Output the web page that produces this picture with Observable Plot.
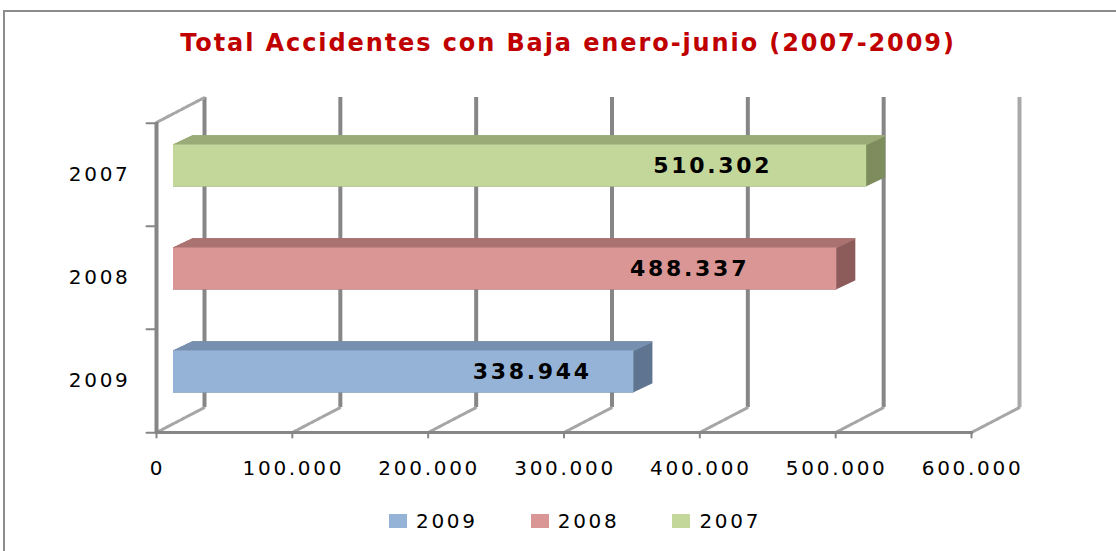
<!DOCTYPE html>
<html>
<head>
<meta charset="utf-8">
<script src="https://cdn.jsdelivr.net/npm/d3@7"></script>
<script src="https://cdn.jsdelivr.net/npm/@observablehq/plot@0.6"></script>
<style>
  html, body { margin: 0; padding: 0; background: #fff; }
  body { width: 1116px; height: 551px; overflow: hidden; position: relative; font-family: "DejaVu Sans", Verdana, sans-serif; }
  #box { position: absolute; left: 3px; top: 10px; width: 1130px; height: 560px; border-left: 2px solid #8c8c8c; border-top: 2px solid #8c8c8c; }
  #title { position: absolute; left: 0; top: 29px; width: 1136px; text-align: center; font-family: "DejaVu Sans", sans-serif; font-weight: bold; font-size: 24px; letter-spacing: 1.9px; color: #c00000; white-space: nowrap; }
  #chart { position: absolute; left: 0; top: 80px; }
  #chart svg text { letter-spacing: 2.7px; }
  #legend { position: absolute; left: 389px; top: 509px; display: flex; gap: 53px; align-items: center; font-size: 20px; letter-spacing: 2.7px; color: #000; }
  .item { display: flex; align-items: center; }
  .sw { width: 18px; height: 14px; margin-right: 9px; }
</style>
</head>
<body>
<div id="box"></div>
<div id="title">Total Accidentes con Baja enero-junio (2007-2009)</div>
<div id="chart"></div>
<div id="legend"></div>
<script>
// ---- data ----
const years = ["2009", "2008", "2007"];
const values = [338944, 488337, 510302];
const xTicks = [0, 100000, 200000, 300000, 400000, 500000, 600000];
const frontColors = ["#95b3d7", "#da9694", "#c4d79b"];
const topColors = ["#7890b0", "#aa7371", "#9bab79"];
const sideColors = ["#607590", "#8c5c5b", "#7e8d5e"];

const data = years.map((year, i) => ({year, value: values[i], front: frontColors[i], top: topColors[i], side: sideColors[i]}));

const es = d3.formatLocale({decimal: ",", thousands: ".", grouping: [3], currency: ["", " €"]});
const fmt = es.format(",d");

// ---- layout ----
const W = 1116, H = 410, mt = 42, mb = 58, ml = 156, mr = 145;
const bw = (H - mt - mb) / 3;
const inset = 30.5;
const wallDx = 48, wallDy = -25;
const barDx = 17, barDy = -9, depthDx = 19, depthDy = -9;
const steps = 24;

const barMarks = [];
// extruded body (side colour)
for (let k = steps; k >= 0; k--) {
  const t = k / steps;
  barMarks.push(Plot.barX(data, {x1: 0, x2: "value", y: "year", fill: "side", insetTop: inset, insetBottom: inset,
    dx: barDx + depthDx * t, dy: barDy + depthDy * t}));
}
// top face
for (let k = steps; k >= 0; k--) {
  const t = k / steps;
  barMarks.push(Plot.ruleY(data, {y: "year", x1: 0, x2: "value", stroke: "top", strokeWidth: 1.2,
    dx: barDx + depthDx * t, dy: barDy + depthDy * t - (bw / 2 - inset)}));
}
// front face
barMarks.push(Plot.barX(data, {x1: 0, x2: "value", y: "year", fill: "front", insetTop: inset, insetBottom: inset, dx: barDx, dy: barDy}));

const leftTicks = years.slice();

const chart = Plot.plot({
  width: W, height: H,
  marginTop: mt, marginBottom: mb, marginLeft: ml, marginRight: mr,
  x: {domain: [0, 600000], axis: null},
  y: {domain: ["2007", "2008", "2009"], padding: 0, axis: null},
  color: {type: "identity"},
  style: {fontFamily: "'DejaVu Sans', Verdana, sans-serif", background: "transparent", overflow: "visible"},
  marks: [
    // back wall gridlines
    Plot.ruleX(xTicks.slice(0, 6), {x: d => d, dx: wallDx, dy: wallDy, stroke: "#868686", strokeWidth: 4}),
    Plot.ruleX(xTicks.slice(6), {x: d => d, dx: wallDx, dy: wallDy, stroke: "#a9a9a9", strokeWidth: 4}),
    // floor diagonals
    Plot.vector(xTicks, {x: d => d, frameAnchor: "bottom", length: 54, rotate: 62.5, anchor: "start", r: 0, stroke: "#a6a6a6", strokeWidth: 3, strokeDasharray: "4,1.5"}),
    // top-left wall edge
    Plot.vector([0], {x: d => d, frameAnchor: "top", length: 54, rotate: 62.5, anchor: "start", r: 0, stroke: "#a6a6a6", strokeWidth: 3, strokeDasharray: "4,1.5"}),
    // left front edge
    Plot.ruleX([0], {stroke: "#868686", strokeWidth: 4}),
    // floor front edge
    Plot.frame({anchor: "bottom", stroke: "#868686", strokeWidth: 3}),
    // x tick marks
    Plot.vector(xTicks, {x: d => d, frameAnchor: "bottom", length: 5, rotate: 180, anchor: "start", r: 0, stroke: "#868686", strokeWidth: 2}),
    // y tick marks (band edges)
    Plot.vector(leftTicks, {y: d => d, frameAnchor: "left", length: 10, rotate: -90, anchor: "start", r: 0, dy: -bw / 2, stroke: "#868686", strokeWidth: 2}),
    Plot.vector(["2009"], {y: d => d, frameAnchor: "left", length: 10, rotate: -90, anchor: "start", r: 0, dy: bw / 2, stroke: "#868686", strokeWidth: 2}),
    ...barMarks,
    // value labels
    Plot.text(data, {x: d => d.value * 0.775, y: "year", text: d => fmt(d.value), dx: barDx + 2, dy: barDy, fontSize: 22, fontWeight: "bold", fill: "#000"}),
    // y labels
    Plot.text(years, {y: d => d, frameAnchor: "left", textAnchor: "end", dx: -26, fontSize: 20, fill: "#000"}),
    // x labels
    Plot.text(xTicks, {x: d => d, frameAnchor: "bottom", dy: 36.5, lineAnchor: "middle", text: d => fmt(d), fontSize: 20, fill: "#000", dx: 1})
  ]
});
document.getElementById("chart").appendChild(chart);

// legend
const legend = document.getElementById("legend");
data.forEach(d => {
  const it = document.createElement("div");
  it.className = "item";
  const sw = document.createElement("div");
  sw.className = "sw";
  sw.style.background = d.front;
  const lb = document.createElement("span");
  lb.textContent = d.year;
  it.appendChild(sw); it.appendChild(lb);
  legend.appendChild(it);
});
</script>
</body>
</html>
